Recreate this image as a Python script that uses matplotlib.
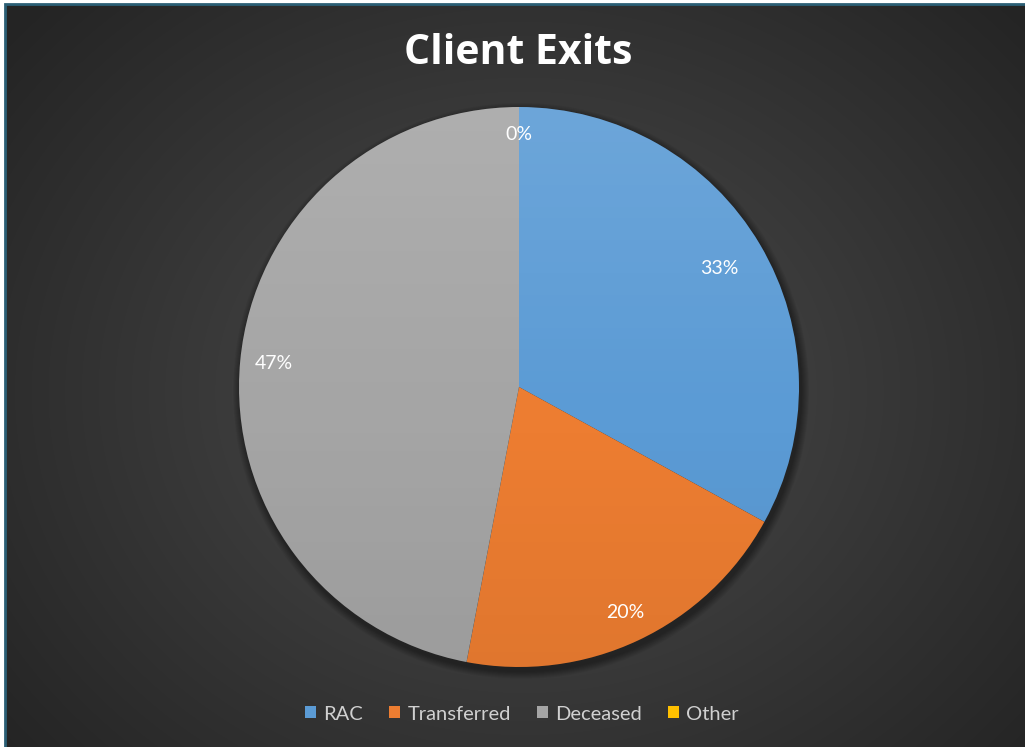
import numpy as np
import matplotlib.pyplot as plt
from matplotlib.patches import Circle, Rectangle

# exit categories and their share of clients
categories = ['RAC', 'Transferred', 'Deceased', 'Other']
shares = [33, 20, 47, 0]
colors = ['#5b9bd5', '#ed7d31', '#a5a5a5', '#ffc000']
# how far out each percentage sits (fraction of radius)
label_dist = [0.83, 0.89, 0.88, 0.90]

W, H = 1025, 747
cx, cy, r = 519, H - 387, 280

plt.rcParams['font.family'] = ['Lato', 'DejaVu Sans']

fig = plt.figure(figsize=(W / 100, H / 100), dpi=100, facecolor='white')
ax = fig.add_axes([0, 0, 1, 1])

# dark radial backdrop, lighter around the middle
yy, xx = np.mgrid[0:H, 0:W]
d = np.sqrt(((xx - 520) / 620.0) ** 2 + ((yy - 390) / 520.0) ** 2)
lvl = np.clip(0.30 - 0.145 * d, 0.145, 0.30)
bg = np.dstack([lvl, lvl, lvl])
ax.imshow(bg, extent=(6, W + 2, 0, H - 4), origin='upper', zorder=0, aspect='auto')
ax.add_patch(Rectangle((5, -5), W + 10, H - 4 + 5, fill=False,
                       edgecolor='#2b5f75', linewidth=2, zorder=1))

# soft shadow under the pie
for k in range(8):
    ax.add_patch(Circle((cx + 2, cy - 4), r + 8 - k, color='black',
                        alpha=0.05, lw=0, zorder=2))

wedges, texts, autotexts = ax.pie(
    shares, colors=colors, startangle=90, counterclock=False,
    center=(cx, cy), radius=r, frame=True,
    autopct=lambda p: f'{p:.0f}%', pctdistance=0.87,
    wedgeprops=dict(linewidth=0, zorder=3),
    textprops=dict(color='white', fontsize=14))
for w, t, f in zip(wedges, autotexts, label_dist):
    mid = np.deg2rad((w.theta1 + w.theta2) / 2)
    t.set_position((cx + f * r * np.cos(mid), cy + f * r * np.sin(mid)))
    t.set_zorder(6)
ax.set_xlim(0, W)
ax.set_ylim(0, H)
ax.axis('off')

# light top / slightly dark bottom sheen over the pie
g = np.linspace(0, 1, 256)[:, None]
sheen = np.zeros((256, 1, 4))
sheen[..., :3] = np.where(g < 0.55, 1.0, 0.0)[..., None]
sheen[..., 3] = np.where(g < 0.55, (0.55 - g) * 0.2, (g - 0.55) * 0.12)
im = ax.imshow(sheen, extent=(cx - r, cx + r, cy - r, cy + r), origin='upper',
               aspect='auto', zorder=4)
im.set_clip_path(Circle((cx, cy), r, transform=ax.transData))

ax.text(518, H - 53, 'Client Exits', ha='center', va='center', color='white',
        fontsize=29.5, fontweight='bold', family=['Open Sans', 'DejaVu Sans'],
        zorder=6)

leg = fig.legend(wedges, categories, loc='center', bbox_to_anchor=(522 / W, 1 - 714 / H),
                 ncol=4, frameon=False, handlelength=0.55, handleheight=0.55,
                 handletextpad=0.35, columnspacing=1.3, fontsize=14.5)
for t in leg.get_texts():
    t.set_color('#d0d0d0')

fig.savefig('out.png', dpi=100, facecolor='white')
